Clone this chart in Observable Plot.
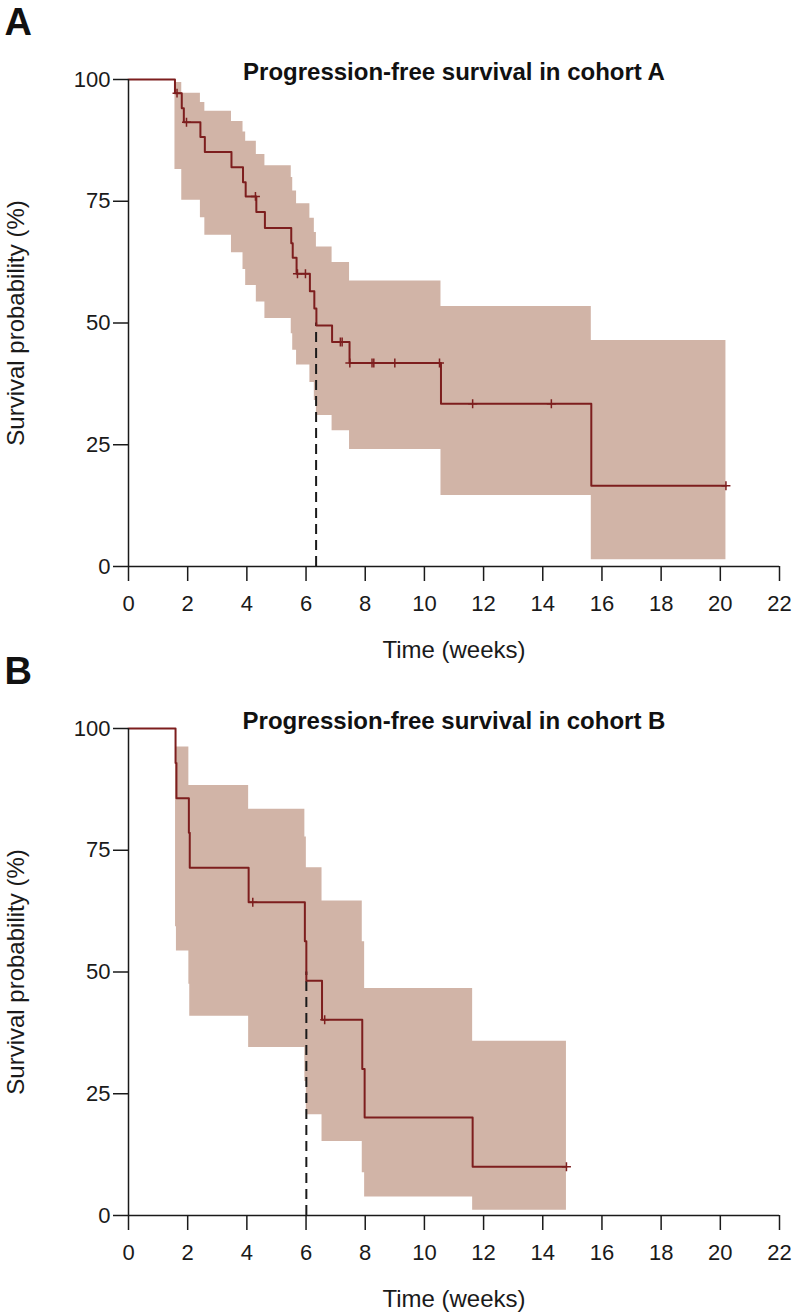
<!DOCTYPE html>
<html>
<head>
<meta charset="utf-8">
<script src="https://cdn.jsdelivr.net/npm/d3@7"></script>
<script src="https://cdn.jsdelivr.net/npm/@observablehq/plot@0.6"></script>
<style>
  body { margin: 0; background: #fff; }
  #chart { width: 794px; height: 1314px; position: relative; }
  #chart svg { display: block; position: absolute; left: 0; }
</style>
</head>
<body>
<div id="chart"></div>
<script>
// ---- Cohort A (Kaplan–Meier, % survival, 95% CI) ----
const timeA  = [0, 1.57, 1.80, 1.87, 2.43, 2.58, 3.48, 3.87, 3.96, 4.32, 4.61, 5.50, 5.55, 5.68, 6.13, 6.28, 6.35, 6.88, 7.47, 10.56, 15.64, 20.19];
const survA  = [100, 97.2, 94.1, 91.2, 88.2, 85.1, 82.0, 78.9, 76.0, 72.8, 69.5, 66.4, 63.4, 60.1, 56.5, 53.0, 49.5, 46.1, 41.8, 33.4, 16.6, 16.6];
const upperA = [100, 99.4, 97.2, 97.2, 95.3, 93.5, 91.4, 89.2, 87.3, 84.6, 82.3, 79.9, 77.1, 74.5, 71.5, 68.6, 65.6, 62.4, 58.6, 53.4, 46.4, 46.4];
const lowerA = [100, 81.5, 75.2, 75.2, 71.6, 68.0, 64.4, 61.0, 57.7, 54.3, 50.9, 47.8, 44.4, 41.4, 37.8, 34.1, 31.0, 27.9, 24.0, 14.6, 1.4, 1.4];
const censorTimeA = [1.64, 1.96, 4.29, 5.71, 5.98, 7.16, 7.22, 7.48, 8.23, 8.29, 9.00, 10.51, 11.63, 14.29, 20.19];
const censorSurvA = [97.2, 91.2, 76.0, 60.1, 60.1, 46.1, 46.1, 41.8, 41.8, 41.8, 41.8, 41.8, 33.4, 33.4, 16.6];
const medianA = 6.34;

// ---- Cohort B ----
const timeB  = [0, 1.59, 1.62, 2.04, 2.07, 4.06, 5.96, 6.01, 6.54, 7.90, 7.98, 11.63, 14.80];
const survB  = [100, 92.9, 85.7, 78.6, 71.4, 64.3, 56.3, 48.2, 40.2, 30.1, 20.1, 10.0, 10.0];
const upperB = [100, 99.5, 96.2, 88.3, 88.3, 83.4, 77.7, 71.4, 64.6, 56.2, 46.6, 35.8, 35.8];
const lowerB = [100, 59.3, 54.3, 47.5, 40.9, 34.5, 27.5, 20.7, 15.2, 8.8, 3.8, 1.1, 1.1];
const censorTimeB = [4.20, 6.63, 14.80];
const censorSurvB = [64.3, 40.2, 10.0];
const medianB = 6.01;

// ---- Axes ----
const xTicks = [0, 2, 4, 6, 8, 10, 12, 14, 16, 18, 20, 22];
const yTicks = [0, 25, 50, 75, 100];
const xLabel = "Time (weeks)";
const yLabel = "Survival probability (%)";

const lineColor = "#7d1e1e";
const bandColor = "#d1b4a7";
const ink = "#1a1a1a";
const font = "'Liberation Sans', Arial, Helvetica, sans-serif";

function panel(letter, title, time, surv, upper, lower, cTime, cSurv, median, height, marginBottom) {
  const rows = time.map((t, i) => ({t, s: surv[i], hi: upper[i], lo: lower[i]}));
  const cens = cTime.map((t, i) => ({t, s: cSurv[i]}));
  const med = [{t: median, y1: 0, y2: 50}];
  return Plot.plot({
    width: 794,
    height,
    marginTop: 79,
    marginBottom,
    marginLeft: 128,
    marginRight: 15,
    style: {fontFamily: font, background: "transparent", color: ink},
    x: {domain: [0, 22]},
    y: {domain: [0, 100]},
    marks: [
      Plot.areaY(rows.filter(d => d.t > 0), {x: "t", y1: "lo", y2: "hi", curve: "step-after", fill: bandColor}),
      Plot.ruleX(med, {x: "t", y1: "y1", y2: "y2", stroke: ink, strokeWidth: 2, strokeDasharray: "10,6"}),
      Plot.line(rows, {x: "t", y: "s", curve: "step-after", stroke: lineColor, strokeWidth: 2}),
      Plot.dot(cens, {x: "t", y: "s", symbol: "plus", r: 3, stroke: lineColor, strokeWidth: 1.5}),
      Plot.ruleX([0], {y1: 0, y2: 100, stroke: ink, strokeWidth: 1.5}),
      Plot.ruleY([0], {x1: 0, x2: 22, stroke: ink, strokeWidth: 1.5}),
      Plot.axisX({ticks: xTicks, tickSize: 15, tickPadding: 14, fontSize: 22, label: null, stroke: ink, strokeWidth: 1.5, fill: ink}),
      Plot.axisY({ticks: yTicks, tickSize: 15, tickPadding: 3, fontSize: 22, label: null, stroke: ink, strokeWidth: 1.5, fill: ink}),
      Plot.text([letter], {text: d => d, frameAnchor: "top-left", textAnchor: "start", dx: -124, dy: -57, fontSize: 38, fontWeight: "bold", fill: "#111", lineAnchor: "middle"}),
      Plot.text([title], {text: d => d, frameAnchor: "top", textAnchor: "middle", dy: -7, fontSize: 24, fontWeight: "bold", fill: "#111", lineAnchor: "middle"}),
      Plot.text([yLabel], {text: d => d, frameAnchor: "left", textAnchor: "middle", dx: -112, rotate: -90, fontSize: 24, fill: ink, lineAnchor: "middle"}),
      Plot.text([xLabel], {text: d => d, frameAnchor: "bottom", textAnchor: "middle", dy: 84, fontSize: 24, fill: ink, lineAnchor: "middle"})
    ]
  });
}

const chart = document.getElementById("chart");
const svgA = panel("A", "Progression-free survival in cohort A", timeA, survA, upperA, lowerA, censorTimeA, censorSurvA, medianA, 664, 98);
svgA.style.top = "0px";
const svgB = panel("B", "Progression-free survival in cohort B", timeB, survB, upperB, lowerB, censorTimeB, censorSurvB, medianB, 665, 99);
svgB.style.top = "649px";
chart.appendChild(svgA);
chart.appendChild(svgB);
</script>
</body>
</html>
